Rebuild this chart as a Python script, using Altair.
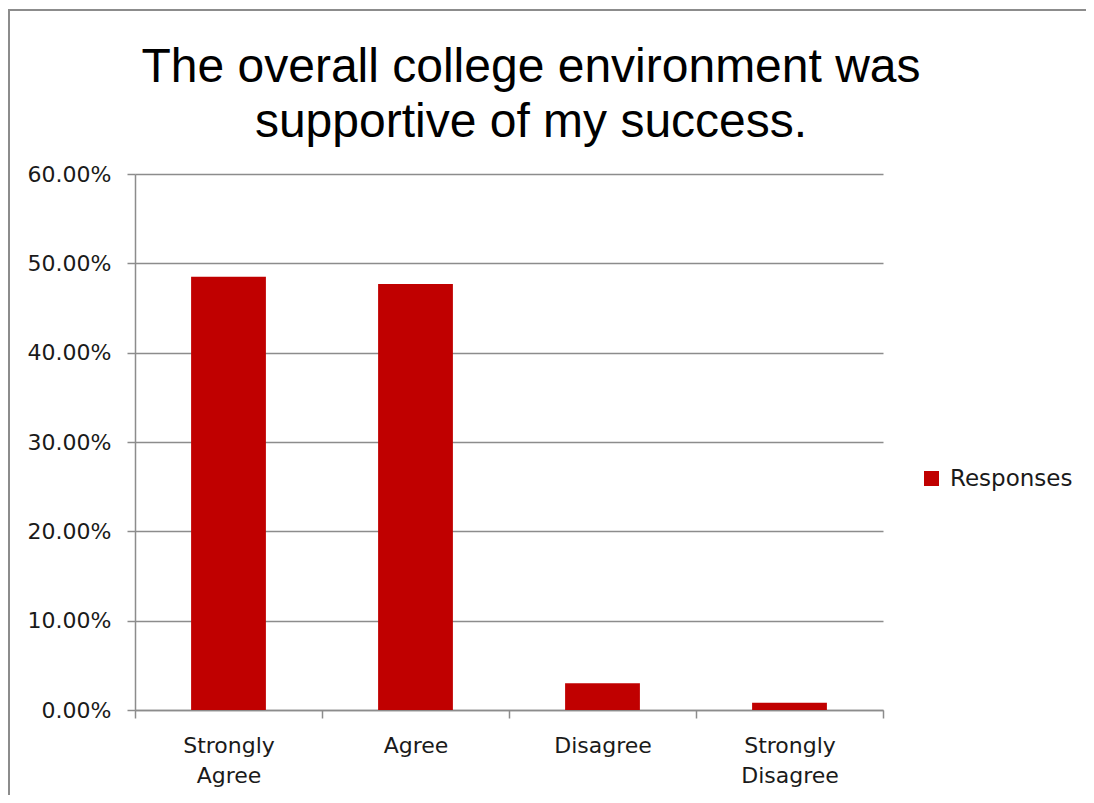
import altair as alt
import pandas as pd

categories = ["Strongly Agree", "Agree", "Disagree", "Strongly Disagree"]
values = [0.485, 0.477, 0.030, 0.008]
series = ["Responses"] * 4
y_ticks = [0, 0.1, 0.2, 0.3, 0.4, 0.5, 0.6]

df = pd.DataFrame({"category": categories, "value": values, "series": series})

GRAY = "#8c8c8c"
FONT = "DejaVu Sans"

bars = alt.Chart(df).mark_bar(width=alt.RelativeBandSize(0.4), color="#C00000").encode(
    x=alt.X(
        "category:N",
        sort=categories,
        scale=alt.Scale(paddingInner=0, paddingOuter=0),
        axis=alt.Axis(
            title=None,
            labelAngle=0,
            labelExpr="split(datum.label, ' ')",
            labelLineHeight=30,
            labelFont=FONT,
            labelFontSize=22,
            labelColor="#1a1a1a",
            labelPadding=17,
            tickBand="extent",
            tickSize=8,
            tickColor=GRAY,
            tickWidth=1.5,
            domainColor=GRAY,
            domainWidth=1.5,
            grid=False,
        ),
    ),
    y=alt.Y(
        "value:Q",
        scale=alt.Scale(domain=[0, 0.6], nice=False),
        axis=alt.Axis(
            title=None,
            values=y_ticks,
            format=".2%",
            labelFont=FONT,
            labelFontSize=22,
            labelColor="#1a1a1a",
            labelPadding=16,
            tickSize=8,
            tickColor=GRAY,
            tickWidth=1.5,
            domainColor=GRAY,
            domainWidth=1.5,
            gridColor=GRAY,
            gridWidth=1.5,
        ),
    ),
    color=alt.Color(
        "series:N",
        scale=alt.Scale(range=["#C00000"]),
        legend=alt.Legend(
            title=None,
            orient="none",
            legendX=785,
            legendY=293,
            symbolType="square",
            symbolSize=225,
            symbolStrokeWidth=0,
            labelFont=FONT,
            labelFontSize=23,
            labelColor="#1a1a1a",
            labelOffset=7,
        ),
    ),
)

border = alt.Chart(alt.Data(values=[{"a": 1}])).mark_rect(
    fill="transparent", stroke=GRAY, strokeWidth=2
).encode(
    x=alt.value(-126), x2=alt.value(1000), y=alt.value(-164), y2=alt.value(700)
)

chart = alt.layer(border, bars).properties(
    width=748,
    height=536,
    autosize=alt.AutoSizeParams(type="none"),
    padding={"left": 127, "top": 166, "right": 203, "bottom": 85},
    title=alt.TitleParams(
        text=["The overall college environment was", "supportive of my success."],
        font="Liberation Sans",
        fontSize=48,
        fontWeight="normal",
        color="#000000",
        lineHeight=55,
        anchor="middle",
        frame="group",
        dx=22,
        offset=-138,
    ),
).configure_view(strokeWidth=0)

chart.save("out.html", embed_options={"renderer": "svg", "actions": False})
